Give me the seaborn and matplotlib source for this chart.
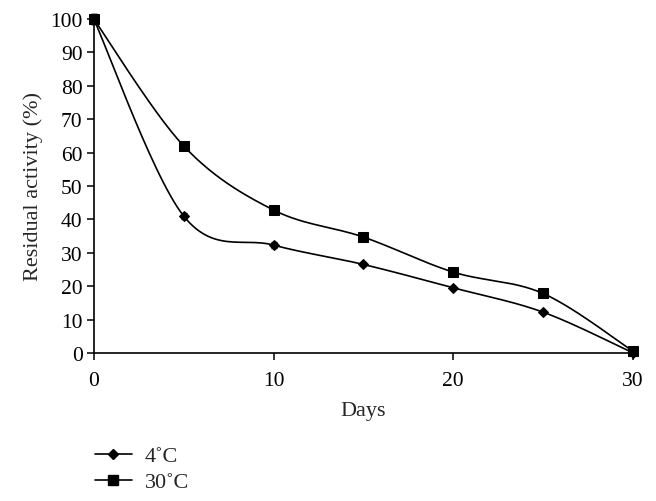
import numpy as np
import pandas as pd
import matplotlib
matplotlib.use("Agg")
import matplotlib.pyplot as plt
import seaborn as sns
from matplotlib.lines import Line2D

days = [0, 5, 10, 15, 20, 25, 30]
act_4c = [100, 41, 32.3, 26.5, 19.5, 12.2, 0]
act_30c = [100, 62, 42.8, 34.7, 24.2, 17.8, 0.5]
err_4c = [1.5, 1.0, 0.8, 0.5, 0.5, 0.5, 0.3]
err_30c = [1.5, 0.8, 0.6, 0.5, 0.5, 0.5, 0.3]
series_names = ["4\u02daC", "30\u02daC"]
x_ticks = [0, 10, 20, 30]
y_ticks = [0, 10, 20, 30, 40, 50, 60, 70, 80, 90, 100]

sns.set_theme(style="ticks")
plt.rcParams["font.family"] = ["Liberation Serif", "DejaVu Serif"]

df = pd.DataFrame({
    "Days": days * 2,
    "Activity": act_4c + act_30c,
    "Series": [series_names[0]] * len(days) + [series_names[1]] * len(days),
})

fig = plt.figure(figsize=(6.56, 5.02), dpi=100)
ax = fig.add_axes([0.143, 0.295, 0.822, 0.665])


def smooth(x, y, n=30):
    x = np.asarray(x, float)
    y = np.asarray(y, float)
    pts = np.column_stack([x, y])
    out = []
    for i in range(len(pts) - 1):
        p0 = pts[i - 1] if i > 0 else pts[i]
        p1 = pts[i]
        p2 = pts[i + 1]
        p3 = pts[i + 2] if i + 2 < len(pts) else pts[i + 1]
        c1 = p1 + (p2 - p0) / 6.0
        c2 = p2 - (p3 - p1) / 6.0
        t = np.linspace(0, 1, n)[:, None]
        seg = ((1 - t) ** 3) * p1 + 3 * ((1 - t) ** 2) * t * c1 + 3 * (1 - t) * t ** 2 * c2 + t ** 3 * p2
        out.append(seg if i == 0 else seg[1:])
    s = np.vstack(out)
    return s[:, 0], s[:, 1]


for vals in (act_4c, act_30c):
    sx, sy = smooth(days, vals)
    ax.plot(sx, sy, color="black", lw=1.2, zorder=2, clip_on=False)

sns.lineplot(data=df, x="Days", y="Activity", hue="Series", style="Series",
             markers={series_names[0]: "D", series_names[1]: "s"},
             markersize=6.5, palette=["black", "black"], linestyle="none",
             dashes=False, legend=False, ax=ax, zorder=3, clip_on=False,
             markeredgecolor="black")
for ln in ax.lines[2:]:
    if ln.get_marker() == "D":
        ln.set_markersize(5.2)

ax.errorbar(days, act_4c, yerr=err_4c, fmt="none", ecolor="black", elinewidth=0.8, capsize=2.5, clip_on=False)
ax.errorbar(days, act_30c, yerr=err_30c, fmt="none", ecolor="black", elinewidth=0.8, capsize=2.5, clip_on=False)

ax.set_xlim(0, 30)
ax.set_ylim(0, 100)
ax.set_xticks(x_ticks)
ax.set_yticks(y_ticks)
ax.tick_params(axis="both", labelsize=15.5, direction="out", length=5, width=1.1, colors="black")
ax.tick_params(axis="x", pad=8)
ax.tick_params(axis="y", pad=3)
for side in ("top", "right"):
    ax.spines[side].set_visible(False)
for side in ("left", "bottom"):
    ax.spines[side].set_linewidth(1.2)
    ax.spines[side].set_color("black")
ax.set_xlabel("Days", fontsize=16, labelpad=8)
ax.set_ylabel("Residual activity (%)", fontsize=16, labelpad=5)

handles = [
    Line2D([], [], color="black", lw=1.2, marker="D", markersize=5, label=series_names[0]),
    Line2D([], [], color="black", lw=1.2, marker="s", markersize=6.5, label=series_names[1]),
]
fig.legend(handles=handles, loc="upper left", bbox_to_anchor=(0.145, 0.110),
           frameon=False, fontsize=16, handlelength=1.65, handletextpad=0.6,
           labelspacing=0.25, borderaxespad=0, borderpad=0)

fig.savefig("out.png", dpi=100)
